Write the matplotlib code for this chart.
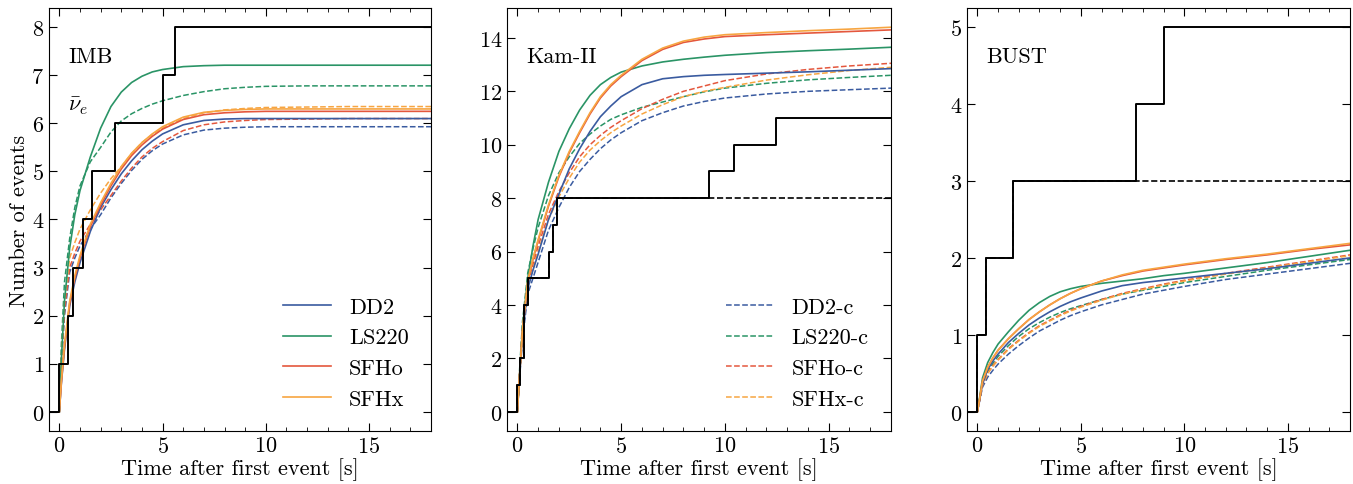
import numpy as np
import matplotlib
matplotlib.use("Agg")
import matplotlib.pyplot as plt
from matplotlib.ticker import MultipleLocator

plt.rcParams['font.family'] = ['cmr10', 'DejaVu Serif']
plt.rcParams['mathtext.fontset'] = 'cm'
plt.rcParams['axes.unicode_minus'] = False
plt.rcParams['axes.formatter.use_mathtext'] = True

# model curves sampled on a common time grid [s]
t_grid = [0, 0.1, 0.25, 0.5, 0.75, 1, 1.5, 2, 2.5, 3, 3.5, 4, 4.5, 5, 6, 7, 8, 9, 10, 12, 14, 16, 18]

models = ['DD2', 'LS220', 'SFHo', 'SFHx']
colors = ['#3a5ba0', '#2a9466', '#e4573d', '#f7a541']

# IMB
imb_dd2 = [0, 0.6, 1.3, 2.2, 2.7, 3.1, 3.75, 4.25, 4.62, 4.95, 5.22, 5.45, 5.63, 5.78, 5.97, 6.06, 6.09, 6.1, 6.1, 6.1, 6.1, 6.1, 6.1]
imb_ls220 = [0, 1.1, 2.3, 3.4, 4.1, 4.6, 5.3, 5.9, 6.35, 6.65, 6.85, 6.98, 7.07, 7.12, 7.18, 7.2, 7.21, 7.21, 7.21, 7.21, 7.21, 7.21, 7.21]
imb_sfho = [0, 0.62, 1.35, 2.25, 2.78, 3.2, 3.85, 4.3, 4.7, 5.05, 5.33, 5.55, 5.73, 5.88, 6.08, 6.18, 6.22, 6.24, 6.25, 6.25, 6.25, 6.25, 6.25]
imb_sfhx = [0, 0.65, 1.4, 2.3, 2.83, 3.25, 3.9, 4.35, 4.75, 5.1, 5.38, 5.6, 5.78, 5.93, 6.13, 6.23, 6.27, 6.29, 6.3, 6.3, 6.3, 6.3, 6.3]
imb_dd2_c = [0, 1.0, 2.0, 2.9, 3.2, 3.45, 3.8, 4.1, 4.45, 4.75, 5.02, 5.25, 5.43, 5.57, 5.76, 5.86, 5.9, 5.92, 5.93, 5.93, 5.93, 5.93, 5.93]
imb_ls220_c = [0, 1.4, 2.7, 3.6, 4.25, 4.7, 5.2, 5.5, 5.82, 6.05, 6.2, 6.31, 6.4, 6.47, 6.58, 6.66, 6.72, 6.75, 6.77, 6.78, 6.78, 6.78, 6.78]
imb_sfho_c = [0, 1.05, 2.1, 3.0, 3.3, 3.55, 3.9, 4.2, 4.5, 4.8, 5.07, 5.3, 5.48, 5.62, 5.85, 5.97, 6.03, 6.06, 6.08, 6.09, 6.1, 6.1, 6.1]
imb_sfhx_c = [0, 1.15, 2.3, 3.2, 3.52, 3.8, 4.2, 4.55, 4.85, 5.1, 5.37, 5.6, 5.77, 5.9, 6.1, 6.22, 6.28, 6.31, 6.33, 6.34, 6.35, 6.35, 6.35]

# Kam-II
kam_dd2 = [0, 1.3, 2.9, 4.6, 5.3, 5.9, 7.2, 8.15, 9.1, 9.85, 10.5, 11.05, 11.45, 11.8, 12.25, 12.47, 12.55, 12.6, 12.63, 12.68, 12.73, 12.79, 12.85]
kam_ls220 = [0, 1.3, 3.2, 5.0, 6.2, 7.2, 8.6, 9.75, 10.6, 11.3, 11.85, 12.25, 12.52, 12.72, 12.95, 13.1, 13.2, 13.28, 13.35, 13.45, 13.52, 13.58, 13.65]
kam_sfho = [0, 1.3, 3.1, 4.85, 5.7, 6.4, 7.7, 8.8, 9.7, 10.45, 11.15, 11.75, 12.2, 12.55, 13.15, 13.57, 13.83, 13.96, 14.05, 14.12, 14.18, 14.24, 14.3]
kam_sfhx = [0, 1.3, 3.1, 4.9, 5.75, 6.45, 7.75, 8.85, 9.75, 10.5, 11.2, 11.8, 12.25, 12.6, 13.2, 13.62, 13.88, 14.03, 14.12, 14.2, 14.27, 14.33, 14.4]
kam_dd2_c = [0, 1.2, 2.7, 4.4, 5.0, 5.6, 6.8, 7.65, 8.4, 9.0, 9.45, 9.85, 10.18, 10.45, 10.9, 11.2, 11.45, 11.62, 11.75, 11.9, 12.0, 12.06, 12.12]
kam_ls220_c = [0, 1.5, 3.4, 5.2, 6.1, 6.9, 8.1, 8.95, 9.55, 10.05, 10.4, 10.7, 10.95, 11.12, 11.4, 11.6, 11.8, 11.98, 12.12, 12.3, 12.43, 12.52, 12.6]
kam_sfho_c = [0, 1.3, 3.0, 4.8, 5.5, 6.2, 7.4, 8.25, 8.95, 9.55, 10.0, 10.35, 10.65, 10.9, 11.35, 11.7, 12.0, 12.2, 12.4, 12.65, 12.82, 12.95, 13.05]
kam_sfhx_c = [0, 1.3, 2.9, 4.7, 5.35, 6.0, 7.2, 8.05, 8.75, 9.35, 9.8, 10.15, 10.45, 10.7, 11.15, 11.5, 11.8, 12.0, 12.15, 12.42, 12.62, 12.78, 12.9]

# BUST
bust_dd2 = [0, 0.14, 0.36, 0.55, 0.66, 0.75, 0.9, 1.02, 1.13, 1.22, 1.3, 1.37, 1.43, 1.48, 1.57, 1.64, 1.68, 1.71, 1.74, 1.8, 1.86, 1.93, 2.0]
bust_ls220 = [0, 0.17, 0.44, 0.64, 0.77, 0.88, 1.04, 1.19, 1.32, 1.42, 1.5, 1.56, 1.6, 1.63, 1.67, 1.7, 1.73, 1.77, 1.8, 1.87, 1.94, 2.02, 2.1]
bust_sfho = [0, 0.15, 0.4, 0.58, 0.7, 0.8, 0.95, 1.08, 1.2, 1.3, 1.39, 1.47, 1.54, 1.6, 1.7, 1.77, 1.83, 1.87, 1.91, 1.98, 2.04, 2.11, 2.17]
bust_sfhx = [0, 0.15, 0.4, 0.58, 0.7, 0.8, 0.95, 1.08, 1.2, 1.3, 1.39, 1.47, 1.54, 1.6, 1.7, 1.78, 1.84, 1.88, 1.92, 1.99, 2.05, 2.12, 2.19]
bust_dd2_c = [0, 0.13, 0.32, 0.45, 0.54, 0.62, 0.75, 0.86, 0.96, 1.05, 1.12, 1.19, 1.25, 1.3, 1.39, 1.46, 1.53, 1.58, 1.63, 1.72, 1.79, 1.86, 1.93]
bust_ls220_c = [0, 0.15, 0.38, 0.52, 0.63, 0.72, 0.86, 0.98, 1.08, 1.16, 1.23, 1.29, 1.34, 1.38, 1.46, 1.53, 1.58, 1.63, 1.68, 1.76, 1.84, 1.91, 1.98]
bust_sfho_c = [0, 0.14, 0.35, 0.5, 0.6, 0.68, 0.82, 0.93, 1.03, 1.12, 1.19, 1.26, 1.32, 1.37, 1.46, 1.54, 1.6, 1.66, 1.71, 1.8, 1.88, 1.96, 2.04]
bust_sfhx_c = [0, 0.14, 0.35, 0.5, 0.59, 0.67, 0.81, 0.92, 1.02, 1.11, 1.18, 1.25, 1.31, 1.36, 1.45, 1.53, 1.59, 1.65, 1.7, 1.79, 1.87, 1.95, 2.03]

# observed event times [s] (cumulative counts drawn as steps)
imb_times = [0, 0.412, 0.650, 1.141, 1.562, 2.684, 5.010, 5.582]
kam_times = [0, 0.107, 0.303, 0.324, 0.507, 1.541, 1.728, 1.915, 9.219, 10.433, 12.439]
kam_times_cut = [0, 0.107, 0.303, 0.324, 0.507, 1.541, 1.728, 1.915]
bust_times = [0, 0.435, 1.710, 7.687, 9.008]
bust_times_cut = [0, 0.435, 1.710]

panels = [
    ('IMB', [imb_dd2, imb_ls220, imb_sfho, imb_sfhx],
     [imb_dd2_c, imb_ls220_c, imb_sfho_c, imb_sfhx_c], imb_times, None, 1),
    ('Kam-II', [kam_dd2, kam_ls220, kam_sfho, kam_sfhx],
     [kam_dd2_c, kam_ls220_c, kam_sfho_c, kam_sfhx_c], kam_times, kam_times_cut, 2),
    ('BUST', [bust_dd2, bust_ls220, bust_sfho, bust_sfhx],
     [bust_dd2_c, bust_ls220_c, bust_sfho_c, bust_sfhx_c], bust_times, bust_times_cut, 1),
]

W, H = 1353, 485
fig = plt.figure(figsize=(W / 100, H / 100), dpi=100)
lefts = [49, 507, 967]
widths = [382, 384, 383]
fs = 16

def steps(ax, times, **kw):
    x = [-0.5] + list(times) + [18]
    y = [0] + list(range(1, len(times) + 1)) + [len(times)]
    ax.step(x, y, where='post', **kw)

axes = []
for i, (name, solid, dashed, times, cut, ystep) in enumerate(panels):
    ax = fig.add_axes([lefts[i] / W, (H - 432) / H, widths[i] / W, 423 / H])
    axes.append(ax)
    sol_lines = []
    das_lines = []
    for k in range(4):
        l, = ax.plot(t_grid, dashed[k], '--', color=colors[k], lw=1.1, label=models[k] + '-c')
        das_lines.append(l)
    for k in range(4):
        l, = ax.plot(t_grid, solid[k], '-', color=colors[k], lw=1.2, label=models[k])
        sol_lines.append(l)
    if cut is not None:
        steps(ax, cut, color='k', lw=1.2, ls='--')
    steps(ax, times, color='k', lw=1.4)

    ax.set_xlim(-0.5, 18)
    ax.xaxis.set_major_locator(MultipleLocator(5))
    ax.xaxis.set_minor_locator(MultipleLocator(1))
    ax.yaxis.set_major_locator(MultipleLocator(ystep))
    ax.tick_params(which='both', direction='in', top=True, right=True, labelsize=fs)
    ax.tick_params(which='major', length=6)
    ax.tick_params(which='minor', length=3)
    ax.set_xlabel('Time after first event [s]', fontsize=fs, labelpad=1)
    ax.text(0.05, 0.885, name, transform=ax.transAxes, fontsize=fs, va='center')

    if i == 0:
        ax.legend(handles=sol_lines, loc='lower right', frameon=False, fontsize=fs,
                  handlelength=2.15, handletextpad=0.8, labelspacing=0.5, borderaxespad=0.6)
    if i == 1:
        ax.legend(handles=das_lines, loc='lower right', frameon=False, fontsize=fs,
                  handlelength=2.15, handletextpad=0.8, labelspacing=0.5, borderaxespad=0.6)

axes[0].text(0.05, 0.77, r'$\bar{\nu}_e$', transform=axes[0].transAxes, fontsize=fs, va='center')
axes[0].set_ylabel('Number of events', fontsize=fs, labelpad=2)

fig.savefig('out.png', dpi=100)
